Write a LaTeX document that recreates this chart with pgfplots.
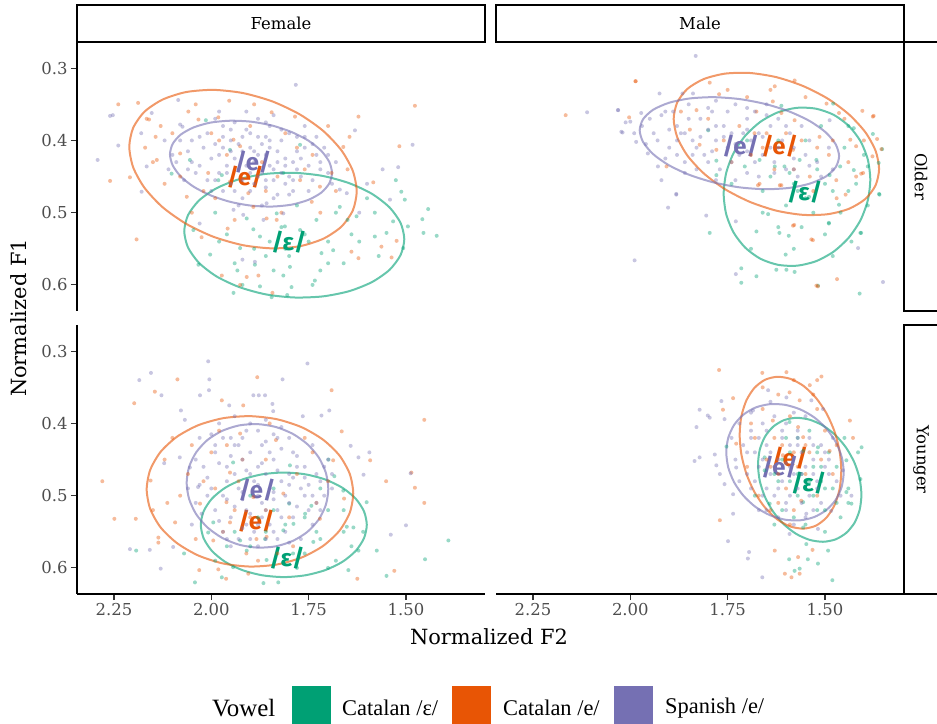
\documentclass[border=0pt]{standalone}
\usepackage{fontspec}
\setmainfont{DejaVu Serif}
\newfontfamily\legfont{Liberation Serif}
\newfontfamily\labfont{Fira Sans}
\usepackage{pgfplots}
\pgfplotsset{compat=1.18}
\definecolor{cg}{RGB}{0,160,116}
\definecolor{co}{RGB}{232,85,5}
\definecolor{cp}{RGB}{117,112,179}
\definecolor{tickc}{RGB}{77,77,77}
\pgfplotsset{
  panel/.style={scale only axis, width=408bp, height=269bp,
    xmin=1.297, xmax=2.345, ymin=0.2637, ymax=0.6361,
    x dir=reverse, y dir=reverse,
    xtick={2.25,2.0,1.75,1.5}, xticklabels={2.25,2.00,1.75,1.50},
    ytick={0.3,0.4,0.5,0.6}, yticklabels={0.3,0.4,0.5,0.6},
    /pgf/number format/assume math mode=true,
    tick align=outside, major tick length=6bp,
    tick style={line width=1.1bp, color=black!80},
    ticklabel style={font=\fontsize{16.5}{18}\selectfont, text=tickc},
    axis line style={line width=2bp, black}},
  pts/.style={only marks, mark=*, color=#1, mark size=2bp, mark options={draw opacity=0, fill opacity=0.4}},
  ell/.style={smooth cycle, tension=0.45, line width=2bp, draw=#1, draw opacity=0.6, mark=none}
}
\tikzset{lab/.style={font=\labfont\bfseries\fontsize{24}{26}\selectfont, text=#1}}
\newcommand{\ee}{/e/}
\newcommand{\eps}{/ɛ/}
\begin{document}
\begin{tikzpicture}
\useasboundingbox (0,0) rectangle (937bp,724bp);
% ---------------- Female / Older
\begin{axis}[panel, at={(77bp,413bp)}, anchor=south west, axis x line=none, axis y line*=left]
\addplot[pts=cg] coordinates {(2.014,0.372) (2.055,0.427) (2.102,0.446) (1.982,0.455) (1.973,0.448) (1.952,0.413) (1.772,0.406) (1.815,0.445) (1.526,0.455) (1.512,0.471) (1.503,0.482) (1.443,0.495) (1.458,0.509) (1.421,0.532) (1.455,0.528) (1.495,0.519) (1.533,0.512) (1.580,0.533) (1.507,0.549) (1.687,0.552) (1.717,0.556) (1.734,0.594) (1.794,0.603) (1.798,0.575) (1.815,0.587) (1.888,0.572) (1.933,0.580) (1.943,0.611) (1.845,0.617) (1.805,0.614) (1.875,0.602) (2.003,0.558) (2.033,0.572) (2.046,0.524) (1.892,0.523) (1.909,0.508) (1.832,0.501) (1.811,0.519) (1.772,0.524) (1.875,0.533) (1.926,0.549) (1.670,0.492) (1.627,0.505) (1.550,0.528) (1.86,0.56) (1.75,0.54) (1.70,0.57) (1.96,0.53) (1.64,0.53) (1.78,0.49) (1.60,0.48) (1.99,0.50) (1.73,0.51) (1.85,0.54) (1.66,0.57) (1.57,0.56) (1.92,0.60) (1.81,0.55) (1.76,0.53) (1.82,0.52) (1.70,0.54) (1.65,0.51) (1.89,0.55) (1.94,0.57) (1.84,0.58) (1.72,0.58) (1.62,0.54) (1.58,0.50) (1.98,0.54) (1.80,0.56) (1.68,0.50) (1.74,0.60)};
\addplot[pts=co] coordinates {(2.239,0.350) (2.188,0.348) (2.166,0.370) (2.160,0.371) (2.143,0.395) (2.140,0.427) (2.260,0.456) (2.209,0.451) (2.192,0.537) (2.059,0.360) (2.033,0.371) (1.982,0.368) (1.954,0.345) (1.845,0.361) (1.785,0.367) (1.622,0.367) (1.645,0.395) (1.661,0.409) (1.517,0.408) (1.477,0.352) (1.584,0.458) (1.640,0.554) (1.622,0.563) (1.563,0.547) (1.537,0.562) (1.524,0.539) (2.025,0.534) (1.958,0.522) (1.973,0.587) (1.926,0.600) (1.909,0.589) (1.879,0.587) (1.843,0.611) (2.080,0.418) (2.063,0.478) (2.008,0.445) (2.000,0.390) (1.943,0.399) (1.926,0.408) (1.952,0.457) (1.905,0.473) (1.892,0.492) (1.858,0.508) (1.832,0.510) (1.772,0.455) (1.721,0.464) (1.691,0.445) (1.742,0.485) (2.12,0.46) (2.05,0.50) (1.99,0.48) (1.87,0.43) (1.81,0.39) (1.74,0.42) (2.10,0.39) (1.96,0.42) (2.17,0.41) (1.70,0.38) (1.83,0.45) (2.15,0.43) (2.08,0.45) (1.98,0.40) (1.90,0.38) (1.78,0.41) (1.68,0.47) (1.72,0.50) (1.94,0.51) (2.02,0.47) (1.86,0.47) (2.13,0.38) (2.04,0.35) (1.89,0.35) (1.76,0.44) (1.65,0.44) (1.82,0.50)};
\addplot[pts=cp] coordinates {(1.783,0.323) (2.260,0.366) (2.253,0.365) (2.239,0.407) (2.292,0.427) (2.085,0.344) (2.153,0.362) (2.080,0.378) (2.074,0.381) (1.631,0.386) (1.483,0.406) (1.520,0.437) (1.541,0.482) (1.670,0.468) (1.652,0.473) (2.179,0.471) (2.166,0.436) (1.918,0.503) (1.943,0.496) (1.858,0.487) (1.815,0.501) (1.888,0.568) (1.866,0.510) (1.92,0.565) (2.03,0.515) (1.62,0.50) (1.60,0.46) (1.56,0.44) (2.18,0.39) (1.95,0.40) (1.90,0.41) (1.86,0.42) (1.82,0.40) (1.98,0.42) (2.02,0.41) (1.93,0.44) (1.88,0.45) (1.84,0.44) (1.79,0.43) (1.76,0.41) (1.73,0.42) (2.05,0.43) (2.08,0.40) (1.97,0.38) (1.91,0.385) (1.85,0.38) (1.80,0.39) (1.77,0.45) (1.72,0.44) (1.99,0.455) (1.95,0.46) (1.90,0.47) (1.86,0.465) (1.81,0.46) (1.94,0.425) (1.89,0.43) (1.87,0.405) (1.83,0.415) (2.01,0.39) (2.04,0.445) (1.78,0.395) (1.75,0.435) (1.71,0.41) (1.92,0.395) (1.96,0.435) (1.85,0.435) (1.90,0.445) (1.80,0.45) (1.83,0.475) (1.97,0.47) (2.06,0.415) (1.88,0.37) (1.94,0.375) (1.74,0.455) (1.70,0.445) (1.68,0.43) (1.79,0.47) (1.93,0.49) (1.87,0.49) (2.00,0.47) (1.76,0.38) (2.10,0.42) (2.12,0.40) (1.91,0.36) (1.84,0.365) (1.98,0.36) (1.86,0.455) (1.95,0.415) (1.81,0.425) (2.03,0.395) (1.99,0.405) (1.92,0.455) (1.88,0.395) (1.78,0.415) (1.73,0.395) (1.69,0.46) (2.07,0.455) (2.11,0.44) (1.97,0.395) (1.86,0.395) (1.82,0.445) (1.93,0.405) (1.89,0.415) (1.85,0.41) (1.81,0.435) (1.77,0.425) (1.74,0.405) (1.96,0.445) (2.00,0.425) (2.03,0.435) (1.91,0.435) (1.87,0.445) (1.84,0.455) (1.79,0.455) (1.95,0.385) (1.90,0.39) (1.82,0.385) (1.76,0.395) (2.05,0.40) (2.09,0.43) (1.98,0.445) (1.94,0.47) (1.89,0.46) (1.84,0.48) (1.80,0.475) (1.72,0.43) (1.70,0.42) (2.01,0.455) (1.97,0.41) (1.88,0.42) (1.85,0.40) (1.92,0.415) (1.78,0.44) (1.83,0.43) (2.06,0.44) (1.75,0.47) (1.99,0.37) (1.86,0.375) (1.92,0.48)};
\addplot[ell=cg] coordinates {(1.5043,0.5366) (1.5139,0.5587) (1.5422,0.5791) (1.5871,0.5960) (1.6456,0.6086) (1.7138,0.6159) (1.7869,0.6174) (1.8600,0.6131) (1.9282,0.6030) (1.9867,0.5882) (2.0316,0.5695) (2.0599,0.5481) (2.0695,0.5256) (2.0599,0.5035) (2.0316,0.4831) (1.9867,0.4662) (1.9282,0.4536) (1.8600,0.4463) (1.7869,0.4448) (1.7138,0.4491) (1.6456,0.4592) (1.5871,0.4740) (1.5422,0.4927) (1.5139,0.5141)};
\addplot[ell=co] coordinates {(1.6265,0.4706) (1.6365,0.4968) (1.6656,0.5192) (1.7121,0.5360) (1.7725,0.5464) (1.8430,0.5494) (1.9186,0.5450) (1.9942,0.5334) (2.0647,0.5154) (2.1251,0.4924) (2.1716,0.4656) (2.2007,0.4372) (2.2107,0.4088) (2.2007,0.3826) (2.1716,0.3602) (2.1251,0.3434) (2.0647,0.3330) (1.9942,0.3300) (1.9186,0.3344) (1.8430,0.3460) (1.7725,0.3640) (1.7121,0.3870) (1.6656,0.4138) (1.6365,0.4422)};
\addplot[ell=cp] coordinates {(1.6900,0.4450) (1.6971,0.4596) (1.7179,0.4724) (1.7510,0.4823) (1.7940,0.4889) (1.8442,0.4915) (1.8981,0.4902) (1.9520,0.4849) (2.0022,0.4759) (2.0452,0.4641) (2.0783,0.4500) (2.0991,0.4346) (2.1062,0.4192) (2.0991,0.4046) (2.0783,0.3918) (2.0452,0.3819) (2.0022,0.3753) (1.9520,0.3727) (1.8981,0.3740) (1.8442,0.3793) (1.7940,0.3883) (1.7510,0.4001) (1.7179,0.4142) (1.6971,0.4296)};
\node[lab=cg] at (axis cs:1.8005,0.5405) {\eps};
\node[lab=co] at (axis cs:1.9135,0.4505) {\ee};
\node[lab=cp] at (axis cs:1.893,0.4297) {\ee};
\end{axis}
% ---------------- Male / Older
\begin{axis}[panel, at={(496bp,413bp)}, anchor=south west, axis x line=none, axis y line=none]
\addplot[pts=cg] coordinates {(1.612,0.352) (1.479,0.349) (1.426,0.383) (1.377,0.391) (1.353,0.412) (1.362,0.431) (1.390,0.436) (1.461,0.436) (1.426,0.441) (1.522,0.427) (1.565,0.427) (1.604,0.436) (1.629,0.436) (1.668,0.427) (1.706,0.436) (1.779,0.428) (1.800,0.386) (1.779,0.448) (1.591,0.445) (1.488,0.448) (1.541,0.478) (1.646,0.502) (1.676,0.526) (1.617,0.528) (1.593,0.532) (1.490,0.515) (1.464,0.489) (1.407,0.528) (1.432,0.540) (1.601,0.558) (1.625,0.579) (1.599,0.579) (1.578,0.582) (1.715,0.577) (1.676,0.588) (1.715,0.597) (1.796,0.528) (1.518,0.601) (1.411,0.612) (1.360,0.475) (1.409,0.528) (1.361,0.474) (1.490,0.514) (1.55,0.40) (1.51,0.38) (1.45,0.41) (1.58,0.46) (1.53,0.50) (1.66,0.47) (1.70,0.40) (1.44,0.47) (1.62,0.40) (1.56,0.52) (1.50,0.46) (1.74,0.46) (1.69,0.55) (1.48,0.56) (1.39,0.49) (1.57,0.47) (1.52,0.44) (1.48,0.47) (1.60,0.49) (1.64,0.45) (1.55,0.48) (1.46,0.50) (1.42,0.46) (1.62,0.52) (1.66,0.50) (1.50,0.53) (1.58,0.55) (1.44,0.38) (1.40,0.42)};
\addplot[pts=co] coordinates {(1.986,0.318) (2.003,0.368) (1.796,0.320) (1.772,0.336) (1.629,0.325) (1.578,0.317) (1.634,0.346) (1.496,0.349) (1.464,0.362) (1.404,0.359) (1.375,0.366) (1.366,0.398) (1.355,0.412) (1.378,0.422) (1.402,0.445) (1.435,0.399) (1.420,0.408) (1.447,0.475) (1.471,0.455) (1.579,0.517) (1.531,0.538) (1.469,0.592) (1.518,0.602) (1.676,0.360) (1.681,0.390) (1.847,0.385) (1.822,0.406) (1.779,0.413) (1.830,0.358) (1.907,0.436) (1.578,0.372) (1.612,0.362) (1.616,0.462) (1.668,0.460) (1.539,0.450) (1.514,0.395) (1.582,0.413) (2.166,0.365) (1.987,0.318) (1.522,0.601) (1.535,0.537) (1.582,0.518) (1.377,0.367) (1.407,0.446) (1.672,0.462) (1.612,0.462) (1.72,0.38) (1.66,0.41) (1.55,0.34) (1.74,0.43) (1.63,0.44) (1.49,0.42) (1.70,0.34) (1.87,0.36) (1.45,0.37) (1.60,0.39) (1.56,0.40) (1.52,0.41) (1.48,0.40) (1.44,0.43) (1.65,0.39) (1.69,0.42) (1.76,0.40) (1.80,0.37) (1.58,0.44) (1.53,0.47) (1.47,0.48) (1.42,0.45) (1.64,0.33) (1.75,0.33) (1.40,0.40)};
\addplot[pts=cp] coordinates {(1.832,0.283) (2.111,0.361) (2.032,0.358) (2.020,0.389) (1.989,0.566) (1.903,0.493) (1.882,0.474) (1.805,0.504) (1.729,0.585) (1.415,0.549) (1.351,0.596) (1.925,0.335) (2.031,0.358) (2.00,0.374) (2.012,0.375) (2.023,0.388) (1.972,0.362) (1.866,0.335) (1.839,0.335) (1.985,0.402) (1.955,0.418) (1.929,0.436) (1.920,0.455) (1.882,0.475) (1.729,0.512) (1.488,0.372) (1.95,0.37) (1.91,0.36) (1.88,0.38) (1.85,0.35) (1.82,0.37) (1.79,0.36) (1.76,0.38) (1.73,0.35) (1.70,0.37) (1.67,0.39) (1.64,0.38) (1.61,0.40) (1.58,0.41) (1.55,0.42) (1.52,0.43) (1.49,0.41) (1.93,0.40) (1.90,0.41) (1.87,0.39) (1.84,0.40) (1.81,0.42) (1.78,0.40) (1.75,0.41) (1.72,0.42) (1.69,0.40) (1.66,0.42) (1.63,0.43) (1.60,0.44) (1.57,0.45) (1.54,0.40) (1.86,0.43) (1.83,0.44) (1.80,0.43) (1.77,0.44) (1.74,0.43) (1.71,0.39) (1.68,0.36) (1.65,0.35) (1.89,0.36) (1.94,0.39) (1.78,0.345) (1.62,0.37) (1.59,0.39) (1.56,0.38) (1.51,0.45) (1.67,0.45) (1.73,0.455) (1.84,0.42) (1.76,0.395) (1.80,0.385) (1.70,0.415) (1.88,0.42) (1.97,0.38) (1.64,0.41) (1.48,0.44) (1.90,0.385) (1.86,0.39) (1.82,0.395) (1.78,0.38) (1.74,0.39) (1.70,0.385) (1.66,0.395) (1.62,0.41) (1.58,0.425) (1.54,0.435) (1.92,0.365) (1.85,0.37) (1.80,0.355) (1.75,0.36) (1.70,0.355) (1.88,0.40) (1.83,0.41) (1.79,0.415) (1.73,0.405) (1.68,0.43) (1.63,0.445) (1.58,0.44) (1.99,0.39) (1.96,0.405) (1.91,0.425) (1.86,0.445) (1.78,0.455) (1.70,0.445) (1.65,0.365) (1.60,0.38)};
\addplot[ell=cg] coordinates {(1.3836,0.4544) (1.3900,0.4830) (1.4088,0.5104) (1.4388,0.5345) (1.4777,0.5539) (1.5232,0.5672) (1.5719,0.5734) (1.6206,0.5722) (1.6661,0.5637) (1.7050,0.5483) (1.7350,0.5272) (1.7538,0.5018) (1.7602,0.4738) (1.7538,0.4452) (1.7350,0.4178) (1.7050,0.3937) (1.6661,0.3743) (1.6206,0.3610) (1.5719,0.3548) (1.5232,0.3560) (1.4777,0.3645) (1.4388,0.3799) (1.4088,0.4010) (1.3900,0.4264)};
\addplot[ell=co] coordinates {(1.3610,0.4394) (1.3700,0.4621) (1.3963,0.4810) (1.4383,0.4946) (1.4929,0.5021) (1.5565,0.5030) (1.6248,0.4972) (1.6931,0.4850) (1.7567,0.4675) (1.8113,0.4456) (1.8533,0.4210) (1.8796,0.3953) (1.8886,0.3702) (1.8796,0.3475) (1.8533,0.3286) (1.8113,0.3150) (1.7567,0.3075) (1.6931,0.3066) (1.6248,0.3124) (1.5565,0.3246) (1.4929,0.3421) (1.4383,0.3640) (1.3963,0.3886) (1.3700,0.4143)};
\addplot[ell=cp] coordinates {(1.4637,0.4218) (1.4724,0.4370) (1.4980,0.4500) (1.5387,0.4597) (1.5917,0.4657) (1.6535,0.4675) (1.7198,0.4649) (1.7861,0.4581) (1.8479,0.4477) (1.9009,0.4343) (1.9416,0.4188) (1.9672,0.4022) (1.9759,0.3858) (1.9672,0.3706) (1.9416,0.3576) (1.9009,0.3479) (1.8479,0.3419) (1.7861,0.3401) (1.7198,0.3427) (1.6535,0.3495) (1.5917,0.3599) (1.5387,0.3733) (1.4980,0.3888) (1.4724,0.4054)};
\node[lab=cg] at (axis cs:1.552,0.4713) {\eps};
\node[lab=co] at (axis cs:1.6163,0.4076) {\ee};
\node[lab=cp] at (axis cs:1.7165,0.4076) {\ee};
\end{axis}
% ---------------- Female / Younger
\begin{axis}[panel, at={(77bp,130bp)}, anchor=south west, axis x line*=bottom, axis y line*=left]
\addplot[pts=cg] coordinates {(2.042,0.620) (2.193,0.576) (1.944,0.454) (1.798,0.458) (1.699,0.450) (1.684,0.473) (1.661,0.493) (1.601,0.509) (1.652,0.543) (1.635,0.544) (1.622,0.576) (1.575,0.576) (1.391,0.562) (1.451,0.588) (1.550,0.611) (1.648,0.603) (1.738,0.564) (1.759,0.525) (1.743,0.514) (1.800,0.511) (1.862,0.560) (1.926,0.562) (1.909,0.576) (1.944,0.599) (1.973,0.613) (1.866,0.621) (1.828,0.620) (1.789,0.539) (1.815,0.548) (1.995,0.537) (2.008,0.551) (1.858,0.589) (1.70,0.52) (1.76,0.58) (1.88,0.53) (1.68,0.59) (1.61,0.55) (1.84,0.49) (1.72,0.49) (1.90,0.50) (1.78,0.60) (2.07,0.58) (1.96,0.57) (1.66,0.52) (1.73,0.55) (1.81,0.54) (1.76,0.53) (1.72,0.56) (1.86,0.55) (1.90,0.57) (1.94,0.55) (1.66,0.55) (1.70,0.60) (1.79,0.58) (1.84,0.52) (1.99,0.59) (1.64,0.57)};
\addplot[pts=co] coordinates {(2.087,0.339) (1.882,0.336) (2.145,0.356) (2.198,0.372) (1.691,0.354) (1.453,0.395) (1.665,0.411) (1.592,0.451) (1.486,0.468) (1.477,0.489) (1.453,0.510) (1.551,0.480) (2.280,0.480) (2.249,0.532) (2.194,0.532) (2.136,0.558) (2.136,0.565) (2.093,0.537) (2.113,0.510) (2.156,0.479) (2.031,0.603) (1.982,0.602) (1.962,0.615) (1.905,0.608) (1.530,0.604) (1.625,0.615) (1.973,0.368) (1.918,0.375) (1.926,0.414) (1.834,0.423) (1.952,0.468) (1.961,0.509) (1.952,0.537) (1.892,0.502) (1.815,0.497) (1.659,0.504) (1.687,0.451) (1.721,0.532) (1.858,0.557) (1.884,0.560) (1.995,0.562) (2.029,0.511) (1.93,0.48) (1.86,0.45) (1.78,0.47) (2.00,0.44) (2.06,0.47) (1.80,0.53) (1.74,0.44) (1.91,0.58) (2.10,0.42) (1.96,0.43) (1.83,0.58) (1.99,0.49) (1.94,0.52) (1.90,0.53) (1.86,0.52) (2.02,0.48) (2.08,0.50) (2.12,0.45) (2.05,0.43) (1.98,0.41) (1.85,0.40) (1.76,0.42) (1.70,0.48) (1.73,0.51) (1.97,0.55) (2.04,0.56) (1.88,0.59) (1.79,0.57) (1.92,0.45) (2.15,0.52)};
\addplot[pts=cp] coordinates {(2.008,0.314) (1.753,0.317) (2.185,0.340) (2.155,0.330) (2.005,0.339) (1.817,0.339) (2.128,0.361) (2.029,0.361) (2.006,0.354) (1.892,0.361) (1.878,0.361) (1.862,0.361) (1.954,0.375) (1.841,0.383) (1.843,0.373) (2.078,0.382) (2.068,0.395) (1.765,0.390) (1.717,0.389) (1.697,0.382) (1.642,0.431) (1.622,0.447) (1.594,0.440) (1.609,0.471) (1.488,0.469) (1.500,0.541) (1.539,0.554) (2.130,0.601) (2.209,0.574) (2.158,0.575) (2.098,0.571) (2.121,0.455) (2.081,0.447) (2.055,0.461) (2.034,0.488) (2.025,0.525) (1.95,0.42) (1.91,0.41) (1.87,0.43) (1.83,0.42) (1.79,0.44) (1.99,0.44) (2.02,0.46) (1.96,0.46) (1.92,0.45) (1.88,0.46) (1.84,0.45) (1.80,0.47) (1.76,0.46) (1.72,0.48) (2.00,0.49) (1.97,0.50) (1.93,0.49) (1.89,0.48) (1.85,0.49) (1.81,0.50) (1.77,0.49) (1.73,0.51) (2.04,0.51) (1.99,0.52) (1.95,0.53) (1.91,0.52) (1.87,0.51) (1.83,0.52) (1.79,0.53) (1.75,0.52) (1.71,0.50) (1.97,0.55) (1.93,0.56) (1.89,0.55) (1.85,0.54) (1.81,0.55) (1.77,0.56) (1.90,0.40) (1.86,0.395) (1.82,0.405) (1.94,0.39) (1.98,0.40) (2.03,0.42) (1.74,0.43) (1.70,0.45) (1.94,0.47) (1.90,0.47) (1.86,0.47) (1.82,0.48) (1.78,0.46) (1.96,0.48) (1.88,0.50) (1.84,0.505) (1.92,0.505) (2.01,0.475) (1.76,0.50) (1.80,0.51) (1.87,0.53) (1.91,0.54) (1.83,0.56) (1.95,0.57) (1.88,0.57) (2.05,0.54) (1.69,0.47) (1.74,0.54) (1.99,0.43) (1.93,0.43) (1.85,0.44) (1.94,0.43) (1.90,0.44) (1.86,0.425) (1.82,0.435) (1.78,0.445) (1.98,0.455) (1.95,0.445) (1.91,0.465) (1.87,0.455) (1.83,0.465) (1.79,0.475) (1.75,0.485) (2.01,0.50) (1.96,0.505) (1.92,0.495) (1.88,0.485) (1.84,0.495) (1.80,0.485) (1.76,0.475) (1.72,0.52) (2.03,0.485) (1.98,0.535) (1.94,0.515) (1.90,0.525) (1.86,0.52) (1.82,0.53) (1.78,0.515) (1.74,0.50) (1.96,0.56) (1.92,0.545) (1.88,0.54) (1.84,0.55) (1.80,0.565) (1.90,0.56) (1.86,0.56) (1.97,0.42) (1.92,0.42) (1.88,0.41) (1.84,0.415) (1.80,0.42) (2.00,0.415) (2.04,0.45) (1.71,0.46) (1.73,0.47) (1.69,0.49) (2.06,0.49)};
\addplot[ell=cg] coordinates {(1.6006,0.5403) (1.6079,0.5590) (1.6292,0.5765) (1.6630,0.5915) (1.7072,0.6030) (1.7586,0.6102) (1.8138,0.6127) (1.8690,0.6102) (1.9204,0.6030) (1.9646,0.5915) (1.9984,0.5765) (2.0197,0.5590) (2.0270,0.5403) (2.0197,0.5216) (1.9984,0.5041) (1.9646,0.4891) (1.9204,0.4776) (1.8690,0.4704) (1.8138,0.4679) (1.7586,0.4704) (1.7072,0.4776) (1.6630,0.4891) (1.6292,0.5041) (1.6079,0.5216)};
\addplot[ell=co] coordinates {(1.6354,0.4968) (1.6444,0.5236) (1.6709,0.5485) (1.7131,0.5696) (1.7680,0.5856) (1.8320,0.5953) (1.9007,0.5981) (1.9694,0.5939) (2.0334,0.5828) (2.0883,0.5656) (2.1305,0.5437) (2.1570,0.5182) (2.1660,0.4912) (2.1570,0.4644) (2.1305,0.4395) (2.0883,0.4184) (2.0334,0.4024) (1.9694,0.3927) (1.9007,0.3899) (1.8320,0.3941) (1.7680,0.4052) (1.7131,0.4224) (1.6709,0.4443) (1.6444,0.4698)};
\addplot[ell=cp] coordinates {(1.6995,0.4906) (1.7057,0.5126) (1.7239,0.5328) (1.7528,0.5499) (1.7904,0.5625) (1.8343,0.5701) (1.8814,0.5719) (1.9285,0.5679) (1.9724,0.5583) (2.0100,0.5439) (2.0389,0.5256) (2.0571,0.5044) (2.0633,0.4822) (2.0571,0.4602) (2.0389,0.4400) (2.0100,0.4229) (1.9724,0.4103) (1.9285,0.4027) (1.8814,0.4009) (1.8343,0.4049) (1.7904,0.4145) (1.7528,0.4289) (1.7239,0.4472) (1.7057,0.4684)};
\node[lab=cg] at (axis cs:1.8056,0.587) {\eps};
\node[lab=co] at (axis cs:1.8852,0.5358) {\ee};
\node[lab=cp] at (axis cs:1.8827,0.4929) {\ee};
\end{axis}
% ---------------- Male / Younger
\begin{axis}[panel, at={(496bp,130bp)}, anchor=south west, axis x line*=bottom, axis y line=none]
\addplot[pts=cg] coordinates {(1.753,0.432) (1.655,0.447) (1.591,0.398) (1.556,0.438) (1.518,0.433) (1.445,0.451) (1.415,0.440) (1.406,0.433) (1.409,0.477) (1.445,0.495) (1.432,0.511) (1.556,0.509) (1.556,0.544) (1.548,0.567) (1.592,0.588) (1.565,0.601) (1.578,0.604) (1.518,0.594) (1.492,0.576) (1.481,0.617) (1.544,0.588) (1.655,0.465) (1.642,0.511) (1.60,0.42) (1.57,0.47) (1.53,0.46) (1.50,0.49) (1.62,0.48) (1.47,0.51) (1.52,0.52) (1.58,0.53) (1.49,0.44) (1.54,0.41) (1.61,0.45) (1.46,0.53) (1.63,0.54) (1.51,0.48) (1.44,0.49) (1.57,0.50) (1.59,0.44) (1.68,0.50) (1.50,0.55) (1.45,0.42) (1.54,0.48) (1.51,0.46) (1.48,0.49) (1.56,0.47) (1.59,0.48) (1.53,0.50) (1.47,0.46) (1.44,0.51) (1.50,0.52) (1.55,0.54) (1.61,0.52) (1.52,0.44) (1.57,0.42) (1.63,0.47)};
\addplot[pts=co] coordinates {(1.772,0.326) (1.661,0.330) (1.599,0.329) (1.509,0.335) (1.539,0.347) (1.520,0.340) (1.736,0.365) (1.762,0.381) (1.591,0.357) (1.565,0.368) (1.634,0.396) (1.569,0.405) (1.556,0.419) (1.428,0.420) (1.436,0.396) (1.488,0.438) (1.608,0.444) (1.561,0.507) (1.728,0.428) (1.770,0.534) (1.629,0.576) (1.569,0.585) (1.586,0.613) (1.565,0.608) (1.603,0.608) (1.532,0.575) (1.62,0.36) (1.66,0.38) (1.68,0.42) (1.59,0.39) (1.52,0.38) (1.50,0.41) (1.64,0.46) (1.55,0.47) (1.60,0.49) (1.67,0.50) (1.52,0.50) (1.58,0.52) (1.70,0.46) (1.63,0.42) (1.54,0.44) (1.48,0.47) (1.62,0.51) (1.61,0.43) (1.58,0.44) (1.55,0.43) (1.65,0.45) (1.62,0.47) (1.57,0.46) (1.66,0.35) (1.58,0.34) (1.53,0.36) (1.69,0.40) (1.51,0.45) (1.64,0.52) (1.59,0.54) (1.47,0.43)};
\addplot[pts=cp] coordinates {(1.822,0.381) (1.801,0.389) (1.796,0.392) (1.766,0.369) (1.758,0.394) (1.830,0.405) (1.822,0.447) (1.835,0.452) (1.783,0.443) (1.779,0.458) (1.770,0.470) (1.758,0.484) (1.736,0.498) (1.728,0.461) (1.736,0.525) (1.749,0.563) (1.695,0.578) (1.698,0.587) (1.661,0.613) (1.591,0.553) (1.548,0.525) (1.518,0.546) (1.484,0.521) (1.454,0.465) (1.432,0.500) (1.646,0.354) (1.599,0.364) (1.535,0.368) (1.505,0.380) (1.685,0.382) (1.72,0.40) (1.69,0.41) (1.66,0.40) (1.63,0.39) (1.60,0.40) (1.57,0.41) (1.54,0.42) (1.51,0.43) (1.71,0.43) (1.68,0.44) (1.65,0.43) (1.62,0.45) (1.59,0.43) (1.56,0.44) (1.53,0.45) (1.50,0.46) (1.70,0.47) (1.67,0.46) (1.64,0.47) (1.61,0.48) (1.58,0.47) (1.55,0.46) (1.52,0.48) (1.49,0.45) (1.69,0.49) (1.66,0.50) (1.63,0.50) (1.60,0.51) (1.57,0.49) (1.54,0.50) (1.51,0.51) (1.47,0.48) (1.65,0.52) (1.62,0.53) (1.58,0.54) (1.73,0.45) (1.74,0.42) (1.60,0.455) (1.57,0.43) (1.64,0.44) (1.48,0.42) (1.55,0.39) (1.61,0.42) (1.67,0.42) (1.53,0.52) (1.46,0.50) (1.70,0.44) (1.66,0.45) (1.63,0.46) (1.59,0.46) (1.56,0.47) (1.53,0.47) (1.68,0.48) (1.65,0.49) (1.62,0.49) (1.59,0.50) (1.56,0.51) (1.52,0.49) (1.50,0.44) (1.53,0.43) (1.57,0.42) (1.61,0.41) (1.65,0.41) (1.69,0.42) (1.72,0.48) (1.67,0.52) (1.60,0.52) (1.55,0.53) (1.49,0.47) (1.64,0.37) (1.58,0.385) (1.69,0.385)};
\addplot[ell=cg] coordinates {(1.4064,0.4988) (1.4109,0.5196) (1.4242,0.5376) (1.4453,0.5515) (1.4728,0.5605) (1.5048,0.5638) (1.5392,0.5612) (1.5736,0.5530) (1.6056,0.5397) (1.6331,0.5221) (1.6542,0.5016) (1.6675,0.4794) (1.6720,0.4572) (1.6675,0.4364) (1.6542,0.4184) (1.6331,0.4045) (1.6056,0.3955) (1.5736,0.3922) (1.5392,0.3948) (1.5048,0.4030) (1.4728,0.4163) (1.4453,0.4339) (1.4242,0.4544) (1.4109,0.4766)};
\addplot[ell=co] coordinates {(1.4581,0.4654) (1.4625,0.4910) (1.4756,0.5132) (1.4963,0.5304) (1.5233,0.5415) (1.5548,0.5456) (1.5886,0.5427) (1.6224,0.5328) (1.6539,0.5165) (1.6809,0.4952) (1.7016,0.4700) (1.7147,0.4428) (1.7191,0.4156) (1.7147,0.3900) (1.7016,0.3678) (1.6809,0.3506) (1.6539,0.3395) (1.6224,0.3354) (1.5886,0.3383) (1.5548,0.3482) (1.5233,0.3645) (1.4963,0.3858) (1.4756,0.4110) (1.4625,0.4382)};
\addplot[ell=cp] coordinates {(1.4519,0.4675) (1.4570,0.4876) (1.4721,0.5055) (1.4961,0.5197) (1.5273,0.5295) (1.5637,0.5341) (1.6027,0.5332) (1.6417,0.5269) (1.6781,0.5157) (1.7093,0.5001) (1.7333,0.4815) (1.7484,0.4610) (1.7535,0.4399) (1.7484,0.4198) (1.7333,0.4019) (1.7093,0.3877) (1.6781,0.3779) (1.6417,0.3733) (1.6027,0.3742) (1.5637,0.3805) (1.5273,0.3917) (1.4961,0.4073) (1.4721,0.4259) (1.4570,0.4464)};
\node[lab=cg] at (axis cs:1.5418,0.4832) {\eps};
\node[lab=co] at (axis cs:1.5906,0.4486) {\ee};
\node[lab=cp] at (axis cs:1.6163,0.461) {\ee};
\end{axis}
% ---------------- strips
\draw[line width=2.6bp, fill=white] (77bp,682bp) rectangle (485bp,719bp);
\node[font=\fontsize{16.5}{18}\selectfont] at (281bp,700.5bp) {Female};
\draw[line width=2.6bp, fill=white] (496bp,682bp) rectangle (904bp,719bp);
\node[font=\fontsize{16.5}{18}\selectfont] at (700bp,700.5bp) {Male};
\draw[line width=2.6bp, fill=white] (904bp,413bp) rectangle (960bp,682bp);
\node[font=\fontsize{16.5}{18}\selectfont, rotate=-90] at (921bp,547.5bp) {Older};
\draw[line width=2.6bp, fill=white] (904bp,130bp) rectangle (960bp,399bp);
\node[font=\fontsize{16.5}{18}\selectfont, rotate=-90] at (921bp,264.5bp) {Younger};
% ---------------- axis titles
\node[font=\fontsize{21}{24}\selectfont] at (489bp,87bp) {Normalized F2};
\node[font=\fontsize{21}{24}\selectfont, rotate=90] at (19bp,406bp) {Normalized F1};
% ---------------- legend
\node[font=\legfont\fontsize{25}{28}\selectfont, anchor=west, inner sep=0pt] at (212bp,16bp) {Vowel};
\fill[cg] (292bp,0bp) rectangle (331bp,38bp);
\node[font=\legfont\fontsize{22.5}{26}\selectfont, anchor=west, inner sep=0pt] at (342bp,16bp) {Catalan /ɛ/};
\fill[co] (452bp,0bp) rectangle (491bp,38bp);
\node[font=\legfont\fontsize{22.5}{26}\selectfont, anchor=west, inner sep=0pt] at (503bp,16bp) {Catalan /e/};
\fill[cp] (614bp,0bp) rectangle (653bp,38bp);
\node[font=\legfont\fontsize{22.5}{26}\selectfont, anchor=west, inner sep=0pt] at (665bp,16bp) {Spanish /e/};
\end{tikzpicture}
\end{document}
